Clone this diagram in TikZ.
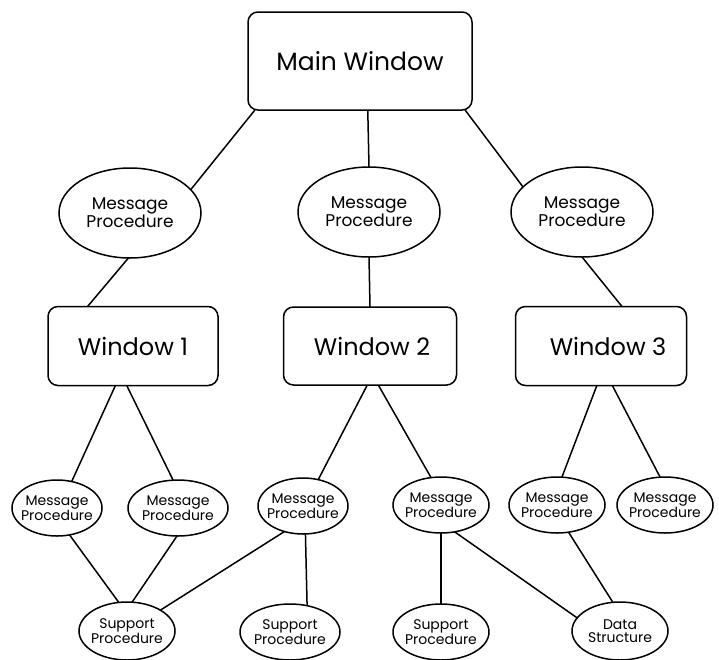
\documentclass[tikz,border=0pt]{standalone}
\usepackage{fontspec}
\setmainfont{Poppins}
\usetikzlibrary{shapes.geometric}

\begin{document}
\begin{tikzpicture}[x=1pt,y=-1pt,line width=1.5pt,
    winbox/.style={draw, rounded corners=10pt, inner sep=0pt, outer sep=0pt},
    bigproc/.style={draw, ellipse, inner sep=0pt, outer sep=0pt, align=center,
        minimum width=142pt, minimum height=90pt, font=\fontsize{17}{17}\selectfont},
    smallproc/.style={draw, ellipse, inner xsep=-8pt, inner ysep=0pt, outer sep=0pt, align=center,
        minimum width=96pt, minimum height=56pt, font=\fontsize{14}{12.5}\selectfont}]
    \useasboundingbox (0,0) rectangle (719,659);

    % windows
    \node[winbox, minimum width=224pt, minimum height=98pt, font=\fontsize{25}{25}\selectfont] (main) at (360,61) {Main Window};
    \node[winbox, minimum width=170pt, minimum height=79pt, font=\fontsize{24}{24}\selectfont] (w1) at (133,346) {Window 1};
    \node[winbox, minimum width=173pt, minimum height=78pt, font=\fontsize{24}{24}\selectfont] (w2) at (370,346) {\hspace*{4pt}Window 2};
    \node[winbox, minimum width=171pt, minimum height=79pt, font=\fontsize{24}{24}\selectfont] (w3) at (601,346) {\hspace*{14pt}Window 3};

    % message procedures of the main window
    \node[bigproc] (mpl) at (130,213) {Message\\Procedure};
    \node[bigproc] (mpm) at (369,212) {Message\\Procedure};
    \node[bigproc] (mpr) at (582,212) {Message\\Procedure};

    % message procedures of the child windows
    \node[smallproc, minimum width=90pt] (mp1) at (57,508) {Message\\Procedure};
    \node[smallproc, minimum width=100pt] (mp2) at (178,508) {Message\\Procedure};
    \node[smallproc, minimum width=90pt] (mp3) at (303,506) {Message\\Procedure};
    \node[smallproc] (mp4) at (441,505) {Message\\Procedure};
    \node[smallproc] (mp5) at (557,505) {Message\\Procedure};
    \node[smallproc] (mp6) at (665,505) {Message\\Procedure};

    % support procedures and data
    \node[smallproc, minimum height=58pt] (sp1) at (127,631) {Support\\Procedure};
    \node[smallproc, minimum width=100pt] (sp2) at (290,632) {Support\\Procedure};
    \node[smallproc] (sp3) at (441,632) {Support\\Procedure};
    \node[smallproc, minimum height=58pt] (ds) at (620,631) {Data\\Structure};

    \foreach \a/\b in {main.205/mpl.21, main.279/mpm.north, main.335/mpr.157,
                       mpl.268/w1.139, mpm.south/w2.north, mpr.south/w3.62,
                       w1.246/mp1.61, w1.261/mp2.100, w2.266/mp3.60, w2.282/mp4.110,
                       w3.264/mp5.80, w3.286/mp6.100,
                       mp1.295/sp1.106, mp2.268/sp1.80, mp3.234/sp1.32, mp3.275/sp2.57,
                       mp4.south/sp3.north, mp4.297/ds.163, mp5.293/ds.104}
        \draw (\a) -- (\b);
\end{tikzpicture}
\end{document}
